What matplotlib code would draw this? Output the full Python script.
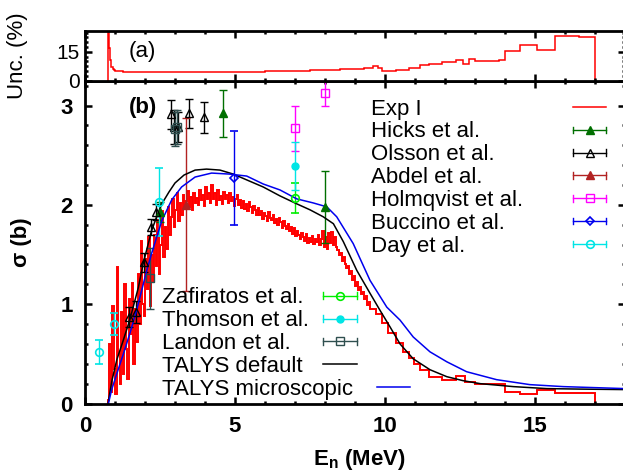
import numpy as np
import matplotlib
matplotlib.use('Agg')
import matplotlib.pyplot as plt
from matplotlib.lines import Line2D
from matplotlib.container import ErrorbarContainer
from matplotlib.legend_handler import HandlerBase
from matplotlib.ticker import MultipleLocator, FixedLocator

plt.rcParams['font.family'] = ['Liberation Sans', 'DejaVu Sans']
plt.rcParams['mathtext.fontset'] = 'custom'
plt.rcParams['mathtext.rm'] = 'Liberation Sans'
plt.rcParams['mathtext.bf'] = 'Liberation Sans:bold'
plt.rcParams['mathtext.it'] = 'Liberation Sans:italic'

# ---------------- data ----------------
# Exp I cross section: fine binned part (0.75 - 9.5 MeV), values in b
exp_fine_range = (0.75, 9.5)
exp_fine = [
    0.04, 0.60, 0.12, 0.98, 0.35, 0.10, 1.37, 0.50, 0.20, 0.92,
    0.30, 1.20, 0.55, 0.25, 1.05, 0.70, 1.21, 0.40, 0.95, 0.62,
    1.30, 0.80, 1.64, 1.00, 0.88, 1.45, 1.15, 1.68, 0.98, 1.50,
    1.22, 1.70, 1.38, 1.85, 1.30, 1.60, 1.94, 1.48, 1.78, 1.56,
    1.98, 1.70, 1.88, 2.06, 1.78, 1.95, 2.12, 1.84, 2.02, 1.90,
    2.10, 1.96, 2.04, 2.14, 1.98, 2.08, 1.95, 2.12, 2.02, 2.07,
    2.00, 2.15, 2.05, 2.10, 1.99, 2.18, 2.06, 2.12, 2.02, 2.20,
    2.06, 2.12, 2.00, 2.15, 2.05, 2.09, 2.01, 2.13, 2.06, 2.10,
    2.02, 2.12, 2.04, 2.08, 1.99, 2.06, 2.10, 2.00, 2.05, 1.97,
    2.04, 1.96, 2.01, 1.94, 2.03, 1.98, 1.92, 1.99, 1.95, 1.90,
    1.97, 1.90, 1.94, 1.86, 1.92, 1.89, 1.84, 1.93, 1.87, 1.85,
    1.90, 1.82, 1.86, 1.80, 1.87, 1.83, 1.77, 1.84, 1.79, 1.76,
    1.81, 1.74, 1.78, 1.71, 1.77, 1.69, 1.74, 1.70, 1.66, 1.72,
    1.68, 1.64, 1.71, 1.62, 1.67, 1.63, 1.69, 1.61, 1.66, 1.63,
    1.70, 1.60, 1.66, 1.74, 1.58, 1.68, 1.56, 1.72, 1.62, 1.73,
    1.60, 1.68, 1.58, 1.55, 1.50, 1.52, 1.43, 1.48, 1.40, 1.36,
    1.38, 1.30, 1.33, 1.24, 1.28, 1.18, 1.22, 1.14, 1.17, 1.10,
    1.12, 1.05, 1.08, 0.99, 1.02,
]
# Exp I coarse binned part
exp_coarse_edges = [9.5, 9.7, 9.9, 10.1, 10.35, 10.6, 10.8, 10.95, 11.15, 11.45,
                    11.9, 12.35, 12.65, 13.0, 14.0, 14.5, 15.05, 15.65, 16.45, 17.0]
exp_coarse = [0.95, 0.90, 0.81, 0.71, 0.61, 0.52, 0.46, 0.40, 0.34, 0.27,
              0.24, 0.28, 0.22, 0.20, 0.12, 0.10, 0.14, 0.11, 0.11]

# Uncertainty (%) panel (a)
unc_edges = [0.75, 0.79, 0.82, 0.85, 0.88, 0.92, 0.96, 1.0, 1.1, 1.25, 1.5, 2.0,
             3.0, 4.0, 5.0, 6.0, 6.5, 7.0, 7.5, 8.0, 8.5, 9.0, 9.3, 9.6, 9.75,
             9.9, 10.35, 10.8, 11.15, 11.45, 11.9, 12.35, 12.6, 12.8, 13.0,
             13.8, 14.0, 14.5, 15.05, 15.65, 16.45, 17.0]
unc_vals = [30, 17, 11, 8.5, 7.0, 6.2, 5.6, 5.2, 4.9, 4.7, 4.5, 4.4, 4.4, 4.5,
            4.6, 4.8, 5.0, 5.2, 5.5, 5.7, 6.0, 6.3, 6.8, 7.4, 6.6, 4.9, 5.6,
            6.8, 8.0, 8.8, 9.7, 11.0, 8.8, 11.2, 10.0, 10.6, 15.4, 18.7, 15.9,
            23.4, 22.9]

# Experimental points (E, sigma, error)
hicks_e, hicks_s, hicks_d = [2.5, 4.6, 8.0], [1.93, 2.92, 1.98], [0.10, 0.24, 0.36]
olsson_e = [1.45, 1.7, 1.95, 2.2, 2.35, 2.85, 2.95, 3.1, 3.45, 3.95]
olsson_s = [0.87, 0.92, 1.42, 1.78, 1.93, 2.91, 2.78, 2.78, 2.92, 2.88]
olsson_d = [0.10, 0.11, 0.10, 0.08, 0.08, 0.15, 0.17, 0.15, 0.15, 0.16]
abdel_e, abdel_s, abdel_d = [3.35], [2.0], [0.87]
holm_e, holm_s, holm_d = [7.0, 8.0], [2.77, 3.13], [0.23, 0.13]
bucc_e, bucc_s, bucc_d = [4.95], [2.27], [0.47]
day_e, day_s, day_d = [0.47, 0.95, 2.45], [0.52, 0.80, 2.03], [0.12, 0.11, 0.34]
zaf_e, zaf_s, zaf_d = [7.0], [2.07], [0.15]
thom_e, thom_s, thom_d = [7.0], [2.39], [0.24]
land_e, land_s, land_d = [2.17, 3.0, 3.08], [1.26, 2.76, 2.78], [0.31, 0.17, 0.17]

# TALYS calculations
talys_def_e = [0.77, 0.89, 1.06, 1.28, 1.5, 1.78, 1.94, 2.22, 2.4, 2.56, 2.8, 3.0,
               3.3, 3.67, 4.05, 4.5, 4.94, 5.4, 5.94, 6.5, 7.06, 7.5, 7.94, 8.28,
               8.61, 9.06, 9.5, 9.83, 10.17, 10.5, 10.94, 11.5, 12.06, 12.6,
               13.17, 14.28, 15.39, 16.5, 18.0]
talys_def_s = [0.0, 0.22, 0.44, 0.64, 0.85, 1.17, 1.41, 1.74, 1.89, 2.01, 2.13, 2.22,
               2.30, 2.35, 2.36, 2.35, 2.31, 2.25, 2.18, 2.09, 2.01, 1.95, 1.88, 1.81,
               1.63, 1.34, 1.11, 0.94, 0.77, 0.60, 0.45, 0.34, 0.27, 0.23,
               0.20, 0.17, 0.15, 0.145, 0.14]
talys_mic_e = [0.78, 0.89, 1.06, 1.28, 1.5, 1.72, 2.06, 2.22, 2.56, 2.89, 3.22, 3.67,
               4.22, 4.8, 5.39, 5.94, 6.5, 7.06, 7.6, 8.06, 8.39, 8.94, 9.5, 10.06,
               10.5, 10.94, 11.5, 12.06, 12.72, 13.72, 14.83, 15.94, 18.0]
talys_mic_s = [0.0, 0.14, 0.30, 0.50, 0.71, 0.94, 1.34, 1.51, 1.84, 2.05, 2.18, 2.28,
               2.32, 2.31, 2.29, 2.21, 2.15, 2.06, 2.02, 1.98, 1.88, 1.61, 1.24, 0.97,
               0.84, 0.67, 0.52, 0.42, 0.32, 0.24, 0.19, 0.17, 0.15]


# -------------- legend sample handler (gnuplot-like) --------------
class GnuSample(HandlerBase):
    def __init__(self, offset, length):
        super().__init__()
        self.offset = offset
        self.length = length

    def create_artists(self, legend, orig_handle, xdescent, ydescent,
                       width, height, fontsize, trans):
        y = height / 2.0 - ydescent
        x0 = -xdescent + self.offset
        x1 = x0 + self.length
        if isinstance(orig_handle, ErrorbarContainer):
            dl = orig_handle[0]
            c = dl.get_color()
            arts = [Line2D([x0, x1], [y, y], color=c, lw=1.0),
                    Line2D([x0, x0], [y - 2.3, y + 2.3], color=c, lw=1.0),
                    Line2D([x1, x1], [y - 2.3, y + 2.3], color=c, lw=1.0),
                    Line2D([(x0 + x1) / 2], [y], ls='none', marker=dl.get_marker(),
                           ms=dl.get_markersize(), mfc=dl.get_markerfacecolor(),
                           mec=dl.get_markeredgecolor(), mew=dl.get_markeredgewidth())]
        else:
            arts = [Line2D([x0, x1], [y, y], color=orig_handle.get_color(),
                           lw=orig_handle.get_linewidth())]
        for a in arts:
            a.set_transform(trans)
        return arts


# ---------------- figure ----------------
W, H = 623, 472
fig = plt.figure(figsize=(W / 100, H / 100), dpi=100)
x_left, x_right = 85, 625
y_top_a, y_sep, y_bot = 30.7, 80.7, 403.5
axb = fig.add_axes([x_left / W, 1 - y_bot / H, (x_right - x_left) / W, (y_bot - y_sep) / H])
axa = fig.add_axes([x_left / W, 1 - y_sep / H, (x_right - x_left) / W, (y_sep - y_top_a) / H])

for ax in (axa, axb):
    for s in ax.spines.values():
        s.set_linewidth(2.0)
    ax.set_xlim(0, 18)
    ax.xaxis.set_major_locator(MultipleLocator(5))
    ax.xaxis.set_minor_locator(MultipleLocator(1))
    ax.tick_params(which='both', direction='in', top=True, right=True, width=1.8)
    ax.tick_params(which='major', length=5)
    ax.tick_params(which='minor', length=2.5)

# ---- panel (a)
axa.stairs(unc_vals, unc_edges, baseline=0, color='red', lw=1.1)
axa.set_ylim(0, 26)
axa.yaxis.set_major_locator(FixedLocator([0, 15]))
axa.yaxis.set_minor_locator(MultipleLocator(2.5))
axa.tick_params(labelbottom=False, labelsize=15, pad=4)
axa.set_ylabel('Unc. (%)', fontsize=16)
axa.yaxis.set_label_coords(-0.105, 0.5)
axa.text(0.08, 0.468, '(a)', transform=axa.transAxes, fontsize=16, va='baseline', ha='left')

# ---- panel (b)
fine_edges = np.linspace(exp_fine_range[0], exp_fine_range[1], len(exp_fine) + 1)
all_edges = np.concatenate([fine_edges, exp_coarse_edges[1:]])
all_vals = np.concatenate([exp_fine, exp_coarse])
axb.stairs(all_vals, all_edges, baseline=0, color='red', lw=1.4)
h_exp_leg = Line2D([], [], color='red', lw=1.1)

eb = dict(capsize=2.6, elinewidth=1.0, capthick=1.0, ls='none')
h_hicks = axb.errorbar(hicks_e, hicks_s, yerr=hicks_d, color='#006f00', marker='^', ms=6,
                       mfc='#006f00', mec='#006f00', **eb)
h_olsson = axb.errorbar(olsson_e, olsson_s, yerr=olsson_d, color='black', marker='^', ms=6,
                        mfc='none', mec='black', mew=1.0, **eb)
h_abdel = axb.errorbar(abdel_e, abdel_s, yerr=abdel_d, color='#b22222', marker='^', ms=6,
                       mfc='#b22222', mec='#b22222', **eb)
h_holm = axb.errorbar(holm_e, holm_s, yerr=holm_d, color='#ff00ff', marker='s', ms=6,
                      mfc='none', mec='#ff00ff', mew=1.0, **eb)
h_bucc = axb.errorbar(bucc_e, bucc_s, yerr=bucc_d, color='#0000ee', marker='D', ms=4,
                      mfc='none', mec='#0000ee', mew=1.2, **eb)
h_day = axb.errorbar(day_e, day_s, yerr=day_d, color='#00e5e5', marker='o', ms=5.5,
                     mfc='none', mec='#00e5e5', mew=1.2, **eb)
h_zaf = axb.errorbar(zaf_e, zaf_s, yerr=zaf_d, color='#00ee00', marker='o', ms=5.5,
                     mfc='none', mec='#00ee00', mew=1.2, **eb)
h_thom = axb.errorbar(thom_e, thom_s, yerr=thom_d, color='#00e5e5', marker='o', ms=5,
                      mfc='#00e5e5', mec='#00e5e5', **eb)
h_land = axb.errorbar(land_e, land_s, yerr=land_d, color='#2f4f4f', marker='s', ms=5.5,
                      mfc='none', mec='#2f4f4f', mew=1.0, **eb)
h_tdef, = axb.plot(talys_def_e, talys_def_s, color='black', lw=1.1)
h_tmic, = axb.plot(talys_mic_e, talys_mic_s, color='#0000ee', lw=1.1)

axb.set_ylim(0, 3.25)
axb.yaxis.set_major_locator(MultipleLocator(1))
axb.yaxis.set_minor_locator(MultipleLocator(0.2))
axb.tick_params(labelsize=16, pad=9)
for lab in axb.get_xticklabels() + axb.get_yticklabels():
    lab.set_fontweight('bold')
axb.set_xlabel(r'E$_\mathbf{n}$ (MeV)', fontsize=16, fontweight='bold')
axb.xaxis.set_label_coords(0.509, -0.135)
axb.set_ylabel('σ (b)', fontsize=16, fontweight='bold')
axb.yaxis.set_label_coords(-0.098, 0.5)
axb.text(0.082, 0.8985, '(b)', transform=axb.transAxes, fontsize=16,
         fontweight='bold', va='baseline', ha='left')

PX = 72.0 / 100.0  # pixels -> points

leg1 = axb.legend(
    [h_exp_leg, h_hicks, h_olsson, h_abdel, h_holm, h_bucc, h_day],
    ['Exp I', 'Hicks et al.', 'Olsson et al.', 'Abdel et al.', 'Holmqvist et al.',
     'Buccino et al.', 'Day et al.'],
    loc='upper left', bbox_to_anchor=((371 - x_left) / 540, (y_bot - 98.4) / 323),
    frameon=False, fontsize=16, handlelength=0.0, handletextpad=0.0,
    labelspacing=0.085, borderpad=0, borderaxespad=0,
    handler_map={ErrorbarContainer: GnuSample(202 * PX, 33 * PX),
                 Line2D: GnuSample(202 * PX, 33 * PX)})
axb.add_artist(leg1)

leg2 = axb.legend(
    [h_zaf, h_thom, h_land, h_tdef, h_tmic],
    ['Zafiratos et al.', 'Thomson et al.', 'Landon et al.', 'TALYS default',
     'TALYS microscopic'],
    loc='upper left', bbox_to_anchor=((161.7 - x_left) / 540, (y_bot - 287.4) / 323),
    frameon=False, fontsize=16, handlelength=0.0, handletextpad=0.0,
    labelspacing=0.085, borderpad=0, borderaxespad=0,
    handler_map={ErrorbarContainer: GnuSample(161 * PX, 34 * PX),
                 Line2D: GnuSample(161 * PX, 34 * PX),
                 h_tmic: GnuSample(215 * PX, 33 * PX)})

fig.savefig('out.png', dpi=100)
